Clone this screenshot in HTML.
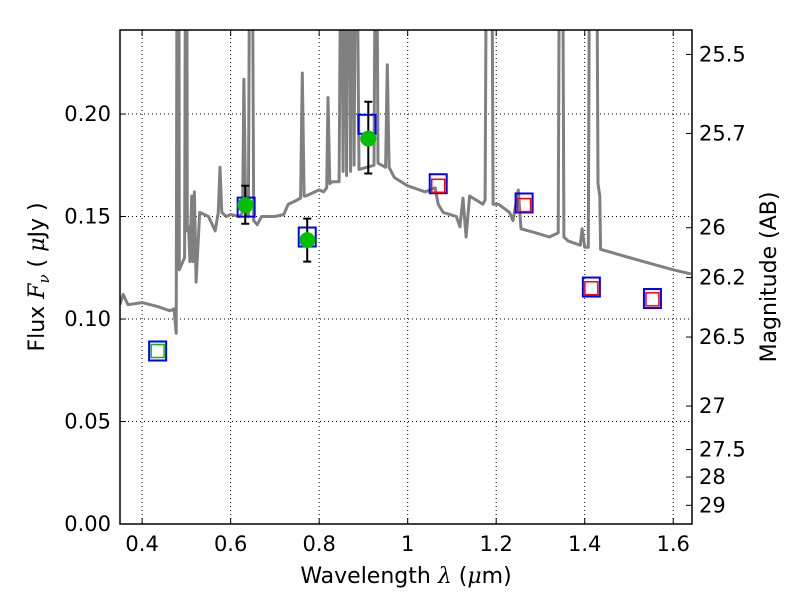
<!DOCTYPE html>
<html><head><meta charset="utf-8"><style>
body{margin:0;background:#fff}
svg{font-family:"DejaVu Sans","Liberation Sans",sans-serif}
</style></head><body>
<svg id="c" width="800" height="600"></svg>
<script>
const specLam=[0.35,0.357,0.368,0.40,0.436,0.463,0.472,0.477,0.479,0.481,0.483,0.484,0.488,0.496,0.498,0.499,0.501,0.502,0.505,0.508,0.512,0.515,0.518,0.522,0.53,0.55,0.565,0.572,0.576,0.58,0.59,0.60,0.62,0.627,0.630,0.634,0.640,0.643,0.646,0.649,0.652,0.66,0.67,0.70,0.72,0.73,0.74,0.75,0.758,0.762,0.766,0.77,0.80,0.81,0.817,0.820,0.824,0.83,0.845,0.849,0.851,0.854,0.857,0.859,0.862,0.865,0.868,0.871,0.874,0.877,0.879,0.882,0.885,0.89,0.924,0.927,0.930,0.933,0.95,0.954,0.958,0.97,1.00,1.04,1.062,1.069,1.08,1.11,1.118,1.125,1.132,1.14,1.17,1.175,1.178,1.190,1.193,1.205,1.23,1.238,1.25,1.256,1.29,1.32,1.34,1.343,1.346,1.350,1.353,1.363,1.39,1.394,1.40,1.408,1.411,1.424,1.427,1.43,1.434,1.436,1.50,1.55,1.60,1.64];
const specFlux=[0.107,0.112,0.107,0.108,0.106,0.104,0.105,0.093,0.30,0.30,0.30,0.124,0.126,0.13,0.30,0.30,0.30,0.143,0.145,0.128,0.160,0.128,0.162,0.118,0.152,0.150,0.143,0.152,0.174,0.152,0.150,0.151,0.150,0.152,0.217,0.152,0.150,0.30,0.30,0.30,0.148,0.146,0.150,0.150,0.151,0.156,0.157,0.158,0.159,0.22,0.160,0.160,0.163,0.162,0.164,0.208,0.166,0.167,0.167,0.30,0.30,0.172,0.30,0.30,0.17,0.30,0.30,0.172,0.30,0.30,0.175,0.30,0.30,0.173,0.175,0.30,0.30,0.176,0.174,0.224,0.174,0.169,0.165,0.162,0.164,0.156,0.152,0.150,0.145,0.159,0.140,0.160,0.156,0.158,0.30,0.30,0.156,0.156,0.152,0.148,0.163,0.144,0.142,0.140,0.142,0.30,0.30,0.30,0.140,0.138,0.136,0.144,0.135,0.135,0.30,0.30,0.30,0.166,0.160,0.134,0.130,0.127,0.124,0.122];
const photLam=[0.435,0.635,0.773,0.908,1.069,1.263,1.415,1.553];
const photFlux=[0.0844,0.1546,0.140,0.195,0.166,0.1566,0.1156,0.110];
const innerLam=[0.435,1.069,1.263,1.415,1.553];
const innerFlux=[0.0844,0.165,0.1556,0.115,0.1096];
const innerColor=['#00c000','red','red','red','red'];
const obsLam=[0.633,0.773,0.911];
const obsFlux=[0.1556,0.1385,0.188];
const obsLo=[0.1465,0.128,0.171];
const obsHi=[0.165,0.149,0.206];
const xTicks=[0.4,0.6,0.8,1.0,1.2,1.4,1.6];
const xTickLabels=['0.4','0.6','0.8','1','1.2','1.4','1.6'];
const yTicks=[0,0.05,0.10,0.15,0.20];
const yTickLabels=['0.00','0.05','0.10','0.15','0.20'];
const magTicks=[25.5,25.7,26,26.2,26.5,27,27.5,28,29];
const magTickLabels=['25.5','25.7','26','26.2','26.5','27','27.5','28','29'];

const L=120,R=692,T=30,B=524,X0=0.35,X1=1.6424,Y0=0,Y1=0.241;
const X=v=>L+(v-X0)/(X1-X0)*(R-L);
const Y=v=>B-(v-Y0)/(Y1-Y0)*(B-T);
const NS='http://www.w3.org/2000/svg';
const svg=document.getElementById('c');
function mk(t,a,p){const e=document.createElementNS(NS,t);for(const k in a)e.setAttribute(k,a[k]);(p||svg).appendChild(e);return e;}
const clip=mk('clipPath',{id:'cp'});mk('rect',{x:L,y:T,width:R-L,height:B-T},clip);
xTicks.forEach((v,i)=>{
 const g=mk('line',{x1:X(v),x2:X(v),y1:T,y2:B,stroke:'#000','stroke-width':1,'stroke-dasharray':'1,3'});
 
 mk('line',{x1:X(v),x2:X(v),y1:B,y2:B-6,stroke:'#000'});mk('line',{x1:X(v),x2:X(v),y1:T,y2:T+6,stroke:'#000'});
 const t=mk('text',{x:X(v),y:B+27,'text-anchor':'middle','font-size':21});t.textContent=xTickLabels[i];
 
});
yTicks.forEach((v,i)=>{
 const g=mk('line',{x1:L,x2:R,y1:Y(v),y2:Y(v),stroke:'#000','stroke-width':1,'stroke-dasharray':'1,3'});
 
 mk('line',{x1:L,x2:L+6,y1:Y(v),y2:Y(v),stroke:'#000'});
 const t=mk('text',{x:L-9,y:Y(v)+7,'text-anchor':'end','font-size':21});t.textContent=yTickLabels[i];
 
});
magTicks.forEach((m,i)=>{
 const f=Math.pow(10,(23.9-m)/2.5);const y=Y(f);
 mk('line',{x1:R,x2:R-6,y1:y,y2:y,stroke:'#000'});
 const t=mk('text',{x:R+7,y:y+7,'font-size':21});t.textContent=magTickLabels[i];
 
});
const g=mk('g',{'clip-path':'url(#cp)'});
const sp=mk('path',{d:specLam.map((l,i)=>(i?'L':'M')+X(l).toFixed(1)+','+Y(specFlux[i]).toFixed(1)).join(''),fill:'none',stroke:'#808080','stroke-width':3,'stroke-linejoin':'round'},g);

photLam.forEach((l,i)=>{
 const r=mk('rect',{x:X(l)-8.5,y:Y(photFlux[i])-9.5,width:17,height:19,fill:'none',stroke:'#0000ff','stroke-width':2},g);
 
});
innerLam.forEach((l,i)=>{
 const r=mk('rect',{x:X(l)-6.5,y:Y(innerFlux[i])-6.5,width:13,height:13,fill:'none',stroke:innerColor[i],'stroke-width':1.5},g);
 
});
obsLam.forEach((l,i)=>{
 const x=X(l);
 const e=mk('path',{d:`M${x},${Y(obsLo[i])}V${Y(obsHi[i])}M${x-4},${Y(obsLo[i])}h8M${x-4},${Y(obsHi[i])}h8`,stroke:'#000','stroke-width':2,fill:'none'},g);
 
 const c=mk('circle',{cx:x,cy:Y(obsFlux[i]),r:8,fill:'#00c000'},g);
 
});
const fr=mk('rect',{x:L,y:T,width:R-L,height:B-T,fill:'none',stroke:'#000','stroke-width':1.5});

const xl=mk('text',{x:406,y:583,'text-anchor':'middle','font-size':22});
xl.innerHTML='Wavelength  <tspan font-style="italic" font-family="DejaVu Serif">λ</tspan> (<tspan font-style="italic" font-family="DejaVu Serif">μ</tspan>m)';

const yl=mk('text',{x:0,y:0,'text-anchor':'middle','font-size':22,transform:'translate(44,277) rotate(-90)'});
yl.innerHTML='Flux  <tspan font-style="italic" font-family="DejaVu Serif">F</tspan><tspan font-style="italic" font-family="DejaVu Serif" font-size="15" dy="5">ν</tspan><tspan dy="-5">  ( </tspan><tspan font-style="italic" font-family="DejaVu Serif">μ</tspan>Jy )';

const ml=mk('text',{x:0,y:0,'text-anchor':'middle','font-size':22,transform:'translate(776,277) rotate(-90)'});
ml.textContent='Magnitude (AB)';

</script>
</body></html>
